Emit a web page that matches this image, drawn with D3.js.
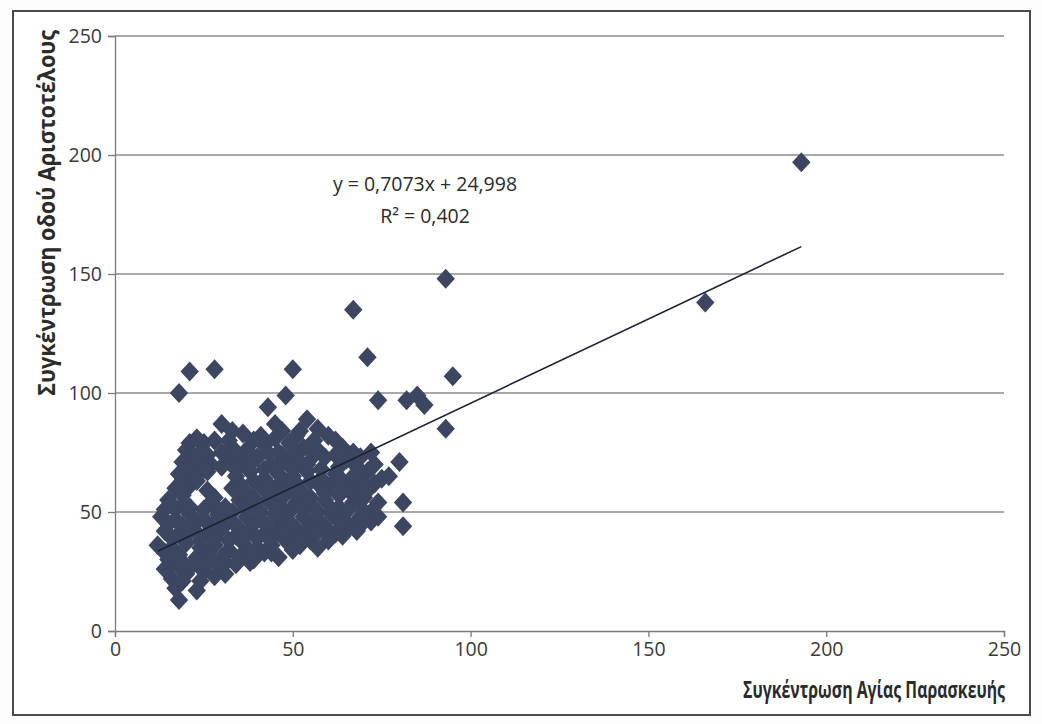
<!DOCTYPE html>
<html>
<head>
<meta charset="utf-8">
<script src="https://cdn.jsdelivr.net/npm/d3@7"></script>
<style>
  body { margin: 0; background: #ffffff; }
  svg { display: block; }
  .tick text { font-family: "Open Sans", sans-serif; font-size: 19.5px; fill: #3a3a3a; }
  .axis-title { font-family: "Open Sans", sans-serif; font-weight: 700; font-size: 23px; fill: #2b2b2b; }
  .eq { font-family: "Open Sans", sans-serif; font-size: 19.5px; fill: #2b2b2b; }
</style>
</head>
<body>
<div id="chart"></div>
<script>
// axis setup
const xTicks = [0, 50, 100, 150, 200, 250]
const yTicks = [0, 50, 100, 150, 200, 250]
const xTitle = "Συγκέντρωση Αγίας Παρασκευής"
const yTitle = "Συγκέντρωση οδού Αριστοτέλους"

// linear trend from the chart label
const slope = 0.7073
const intercept = 24.998
const eqLines = ["y = 0,7073x + 24,998", "R² = 0,402"]

// points, [x, y]
const outliers = [
  [193, 197], [166, 138], [93, 148], [67, 135], [71, 115], [95, 107],
  [50, 110], [28, 110], [21, 109], [18, 100], [48, 99], [43, 94],
  [74, 97], [82, 97], [85, 99], [87, 95], [93, 85], [30, 87], [54, 89],
  [45, 87], [80, 71], [77, 65], [74, 54], [81, 54], [72, 46], [81, 44]
]

const clusterTop = [
  [21, 79], [25, 79], [36, 83], [41, 82], [49, 79], [60, 82], [64, 77],
  [72, 75], [69, 73], [20, 76], [24, 75], [33, 77], [37, 76], [42, 78],
  [46, 75], [53, 77], [57, 76], [62, 74],
  [19, 71], [23, 72], [27, 70], [32, 72], [36, 71], [40, 73], [44, 70],
  [48, 72], [52, 71], [56, 74], [65, 72],
  [18, 66], [22, 65], [26, 67], [34, 65], [38, 67], [42, 64], [46, 66],
  [50, 65], [54, 67], [58, 64], [62, 66], [67, 65], [71, 67],
  [23, 81], [28, 80], [32, 80], [39, 80], [45, 81], [51, 82], [56, 80],
  [62, 80], [52, 84], [57, 85], [47, 84], [33, 84],
  [22, 74], [26, 74], [30, 75], [34, 74], [38, 74], [43, 75], [47, 74],
  [51, 75], [55, 76], [59, 73], [67, 75],
  [21, 68], [25, 68], [30, 69], [34, 68], [38, 70], [42, 68], [46, 69],
  [50, 68], [54, 70], [58, 68], [63, 69], [68, 69], [73, 70]
]

const clusterMiddle = [
  [17, 60], [21, 61], [26, 59], [33, 60], [37, 58], [41, 61], [45, 59],
  [49, 60], [53, 58], [57, 62], [61, 62], [66, 60], [69, 58], [73, 62],
  [15, 55], [19, 53], [27, 54], [31, 52], [35, 55], [39, 53], [43, 55],
  [47, 52], [51, 54], [55, 53], [59, 55], [63, 52], [67, 54], [70, 56],
  [13, 48], [17, 47], [21, 49], [25, 47], [29, 49], [33, 46], [37, 48],
  [41, 47], [45, 49], [49, 46], [53, 48], [57, 47], [61, 49], [65, 46],
  [69, 48], [72, 50],
  [19, 63], [23, 63], [35, 62], [39, 63], [43, 62], [47, 63], [51, 62],
  [55, 63], [59, 60], [64, 63], [69, 63], [75, 64],
  [19, 57], [28, 56], [35, 58], [39, 56], [43, 58], [47, 56], [51, 57],
  [55, 56], [59, 58], [63, 57], [67, 57], [71, 59],
  [14, 51], [17, 51], [21, 52], [25, 51], [29, 51], [33, 50], [37, 51],
  [41, 50], [45, 52], [49, 50], [53, 51], [57, 50], [61, 51], [65, 50],
  [69, 52], [74, 48]
]

const clusterLower = [
  [14, 42], [18, 41], [22, 43], [26, 41], [30, 43], [34, 40], [38, 42],
  [42, 41], [46, 43], [50, 40], [54, 42], [58, 43], [62, 41], [66, 44],
  [12, 36], [16, 35], [20, 37], [24, 35], [28, 36], [32, 34], [36, 37],
  [40, 35], [44, 36], [48, 38], [52, 36], [55, 38], [61, 40],
  [15, 30], [19, 29], [23, 31], [27, 30], [31, 29], [35, 31], [39, 30],
  [42, 33], [46, 31],
  [14, 26], [16, 22], [20, 24], [25, 25], [28, 23], [31, 24], [22, 28],
  [18, 13], [17, 18], [23, 17],
  [15, 45], [19, 44], [23, 46], [27, 44], [31, 46], [35, 43], [39, 45],
  [43, 44], [47, 46], [51, 43], [55, 45], [59, 44], [63, 46], [67, 44],
  [70, 46],
  [16, 39], [20, 40], [24, 38], [28, 39], [32, 38], [36, 40], [40, 39],
  [44, 39], [48, 41], [52, 39], [56, 40], [60, 38], [64, 40], [68, 42],
  [14, 33], [18, 32], [26, 33], [30, 31], [38, 33], [44, 33], [50, 34],
  [57, 35], [18, 27], [26, 28], [30, 27], [34, 28], [38, 29],
  [19, 21], [24, 21]
]

const width = 1042
const height = 724
const plot = { left: 115, right: 1004, top: 36, bottom: 631 }

const svg = d3.select("#chart").append("svg").attr("width", width).attr("height", height)

svg.append("rect").attr("x", 0).attr("y", 0).attr("width", width).attr("height", height).attr("fill", "#fdfdfd")
// chart frame
svg.append("rect").attr("x", 13).attr("y", 11).attr("width", 1017).attr("height", 704)
  .attr("fill", "#ffffff").attr("stroke", "#4a4a4a").attr("stroke-width", 2)

const x = d3.scaleLinear().domain([0, 250]).range([plot.left, plot.right])
const y = d3.scaleLinear().domain([0, 250]).range([plot.bottom, plot.top])

// gridlines
svg.append("g").selectAll("line").data(yTicks.filter(d => d > 0)).enter().append("line")
  .attr("x1", plot.left).attr("x2", plot.right)
  .attr("y1", d => y(d)).attr("y2", d => y(d))
  .attr("stroke", "#8c8c8c").attr("stroke-width", 1.3)

// axes
const xAxis = svg.append("g").attr("transform", `translate(0,${plot.bottom})`)
  .call(d3.axisBottom(x).tickValues(xTicks).tickSize(6).tickPadding(5))
const yAxis = svg.append("g").attr("transform", `translate(${plot.left},0)`)
  .call(d3.axisLeft(y).tickValues(yTicks).tickSize(7).tickPadding(6))
xAxis.selectAll("path, line").attr("stroke", "#7a7a7a").attr("stroke-width", 1.3)
yAxis.selectAll("path, line").attr("stroke", "#7a7a7a").attr("stroke-width", 1.3)

// diamond markers
const diamond = {
  draw(context) {
    const w = 9.2, h = 10
    context.moveTo(0, -h)
    context.lineTo(w, 0)
    context.lineTo(0, h)
    context.lineTo(-w, 0)
    context.closePath()
  }
}
const allPoints = [...clusterLower, ...clusterMiddle, ...clusterTop, ...outliers]
svg.append("g").selectAll("path").data(allPoints).enter().append("path")
  .attr("d", d3.symbol(diamond))
  .attr("transform", d => `translate(${x(d[0])},${y(d[1])})`)
  .attr("fill", "#3d4661")

// trendline across the data range
const xMin = d3.min(allPoints, d => d[0])
const xMax = d3.max(allPoints, d => d[0])
svg.append("line")
  .attr("x1", x(xMin)).attr("y1", y(slope * xMin + intercept))
  .attr("x2", x(xMax)).attr("y2", y(slope * xMax + intercept))
  .attr("stroke", "#1c2233").attr("stroke-width", 1.6)

// equation label
svg.selectAll(".eq").data(eqLines).enter().append("text").attr("class", "eq")
  .attr("x", 425).attr("y", (d, i) => 191 + i * 32)
  .attr("text-anchor", "middle").text(d => d)

// axis titles, squeezed sideways to the narrow look of the original font
const xt = svg.append("text").attr("class", "axis-title").attr("text-anchor", "end").text(xTitle)
const xs = 262 / xt.node().getComputedTextLength()
xt.attr("transform", `translate(1005,698) scale(${xs},1)`)

const yt = svg.append("text").attr("class", "axis-title").attr("text-anchor", "end").text(yTitle)
const ys = 366 / yt.node().getComputedTextLength()
yt.attr("transform", `translate(55,30) rotate(-90) scale(${ys},1)`)
</script>
</body>
</html>
